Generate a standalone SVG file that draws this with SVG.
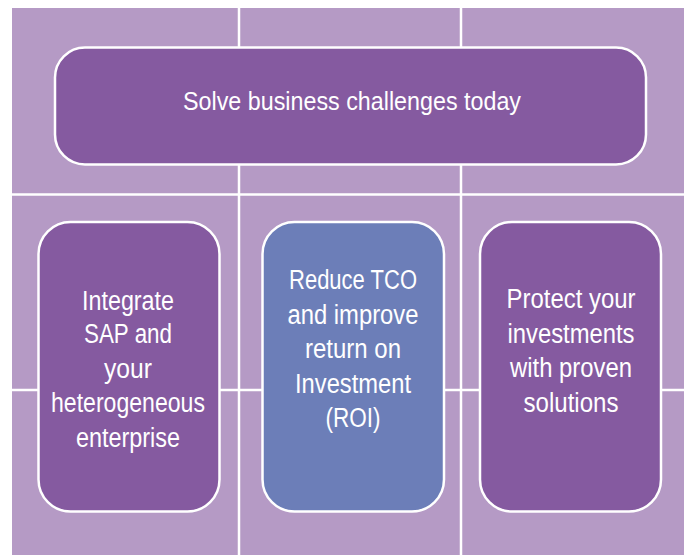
<svg xmlns="http://www.w3.org/2000/svg" width="684" height="555" viewBox="0 0 684 555">
<style>
.bg{fill:#b59ac5}
.grid{stroke:#ffffff;stroke-width:2.5;fill:none}
.box{stroke:#ffffff;stroke-width:2.5}
.purple{fill:#855aa0}
.blue{fill:#6c7eb8}
text{font-family:"Liberation Sans",Arial,sans-serif;fill:#ffffff;text-anchor:middle}
.t1{font-size:26px}
.t2{font-size:27px}
</style>
<rect class="bg" x="12" y="8" width="672" height="547"/>
<g id="connectors">
<line class="grid" x1="239" y1="8" x2="239" y2="555"/>
<line class="grid" x1="461" y1="8" x2="461" y2="555"/>
<line class="grid" x1="12" y1="194.5" x2="684" y2="194.5"/>
<line class="grid" x1="12" y1="390" x2="684" y2="390"/>
</g>
<g id="top">
<rect class="box purple" x="55" y="47.5" width="591" height="117" rx="30"/>
<text class="t1" x="352" y="109.5" textLength="338" lengthAdjust="spacingAndGlyphs">Solve business challenges today</text>
</g>
<g id="integrate">
<rect class="box purple" x="38.5" y="222" width="181" height="289.5" rx="32"/>
<text class="t2" x="128" y="310" textLength="92" lengthAdjust="spacingAndGlyphs">Integrate</text>
<text class="t2" x="128" y="343" textLength="88" lengthAdjust="spacingAndGlyphs">SAP and</text>
<text class="t2" x="128" y="378" textLength="48" lengthAdjust="spacingAndGlyphs">your</text>
<text class="t2" x="128" y="412" textLength="154" lengthAdjust="spacingAndGlyphs">heterogeneous</text>
<text class="t2" x="128" y="447" textLength="104" lengthAdjust="spacingAndGlyphs">enterprise</text>
</g>
<g id="reduce">
<rect class="box blue" x="262.5" y="222" width="181.5" height="289.5" rx="32"/>
<text class="t2" x="353" y="289" textLength="128" lengthAdjust="spacingAndGlyphs">Reduce TCO</text>
<text class="t2" x="353" y="324" textLength="131" lengthAdjust="spacingAndGlyphs">and improve</text>
<text class="t2" x="353" y="358" textLength="96" lengthAdjust="spacingAndGlyphs">return on</text>
<text class="t2" x="353" y="393" textLength="116" lengthAdjust="spacingAndGlyphs">Investment</text>
<text class="t2" x="353" y="427" textLength="55" lengthAdjust="spacingAndGlyphs">(ROI)</text>
</g>
<g id="protect">
<rect class="box purple" x="480" y="222" width="181" height="289.5" rx="32"/>
<text class="t2" x="571" y="308" textLength="129" lengthAdjust="spacingAndGlyphs">Protect your</text>
<text class="t2" x="571" y="343" textLength="127" lengthAdjust="spacingAndGlyphs">investments</text>
<text class="t2" x="571" y="377" textLength="122" lengthAdjust="spacingAndGlyphs">with proven</text>
<text class="t2" x="571" y="412" textLength="95" lengthAdjust="spacingAndGlyphs">solutions</text>
</g>
</svg>
